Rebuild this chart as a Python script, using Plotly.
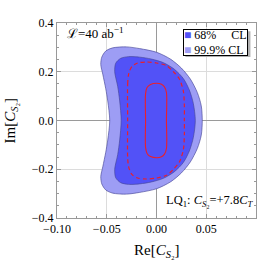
import plotly.graph_objects as go

# Contour boundaries (Re, Im)
outer_x = [-0.047, -0.049, -0.051, -0.054, -0.056, -0.055, -0.051, -0.044, -0.030, -0.017, 0.000, 0.014, 0.025, 0.034, 0.041, 0.045, 0.046,
           0.045, 0.041, 0.034, 0.025, 0.014, 0.000, -0.017, -0.030, -0.044, -0.051, -0.055, -0.056, -0.054, -0.051, -0.049, -0.047]
outer_y = [0.000, 0.080, 0.130, 0.190, 0.230, 0.260, 0.285, 0.298, 0.302, 0.295, 0.280, 0.252, 0.215, 0.170, 0.115, 0.060, 0.000,
           -0.060, -0.115, -0.170, -0.215, -0.252, -0.280, -0.295, -0.302, -0.298, -0.285, -0.260, -0.230, -0.190, -0.130, -0.080, 0.000]

inner_x = [-0.0355, -0.037, -0.039, -0.042, -0.041, -0.036, -0.028, -0.017, -0.005, 0.007, 0.018, 0.027, 0.033, 0.037, 0.039,
           0.037, 0.033, 0.027, 0.018, 0.007, -0.005, -0.017, -0.028, -0.036, -0.041, -0.042, -0.039, -0.037, -0.0355]
inner_y = [0.000, 0.080, 0.140, 0.200, 0.235, 0.255, 0.262, 0.260, 0.252, 0.237, 0.210, 0.172, 0.125, 0.070, 0.000,
           -0.070, -0.125, -0.172, -0.210, -0.237, -0.252, -0.260, -0.262, -0.255, -0.235, -0.200, -0.140, -0.080, 0.000]

dash_x = [-0.029, -0.029, -0.028, -0.025, -0.019, -0.010, 0.000, 0.010, 0.017, 0.023, 0.027, 0.028, 0.028,
          0.028, 0.027, 0.023, 0.017, 0.010, 0.000, -0.010, -0.019, -0.025, -0.028, -0.029, -0.029]
dash_y = [0.000, 0.150, 0.190, 0.220, 0.236, 0.240, 0.236, 0.225, 0.200, 0.170, 0.120, 0.060, 0.000,
          -0.060, -0.120, -0.170, -0.200, -0.225, -0.236, -0.240, -0.236, -0.220, -0.190, -0.150, 0.000]

solid_x = [-0.011, -0.011, -0.0095, -0.006, 0.000, 0.005, 0.008, 0.010, 0.010,
           0.010, 0.008, 0.005, 0.000, -0.006, -0.0095, -0.011, -0.011]
solid_y = [0.000, 0.110, 0.135, 0.148, 0.153, 0.149, 0.138, 0.115, 0.000,
           -0.115, -0.138, -0.149, -0.153, -0.148, -0.135, -0.110, 0.000]

x_ticks = [-0.10, -0.05, 0.00, 0.05, 0.10]
x_labels = ["\u22120.10", "\u22120.05", "0.00", "0.05", "0.10"]
y_ticks = [-0.4, -0.2, 0.0, 0.2, 0.4]
y_labels = ["\u22120.4", "\u22120.2", "0.0", "0.2", "0.4"]

light = "#9d9df4"
dark = "#5252f7"
edge = "rgba(70,70,150,0.8)"
red = "#e8202c"
serif = "Liberation Serif"

fig = go.Figure()
fig.add_trace(go.Scatter(x=outer_x, y=outer_y, mode="lines", fill="toself", fillcolor=light,
                         line=dict(color=edge, width=0.8, shape="spline", smoothing=0.8), showlegend=False, hoverinfo="skip"))
fig.add_trace(go.Scatter(x=inner_x, y=inner_y, mode="lines", fill="toself", fillcolor=dark,
                         line=dict(color=edge, width=0.8, shape="spline", smoothing=0.8), showlegend=False, hoverinfo="skip"))
fig.add_trace(go.Scatter(x=dash_x, y=dash_y, mode="lines",
                         line=dict(color=red, width=1.2, dash="4px,3px", shape="spline", smoothing=0.8), showlegend=False, hoverinfo="skip"))
fig.add_trace(go.Scatter(x=solid_x, y=solid_y, mode="lines",
                         line=dict(color=red, width=1.1, shape="spline", smoothing=0.8), showlegend=False, hoverinfo="skip"))

axis_common = dict(showline=True, linecolor="#999999", linewidth=1, mirror="ticks",
                   ticks="inside", ticklen=4, tickcolor="#999999", tickwidth=0.8,
                   showgrid=True, gridcolor="#dcdcdc", gridwidth=1,
                   zeroline=True, zerolinecolor="#9a9a9a", zerolinewidth=1,
                   tickfont=dict(family=serif, size=12, color="black"),
                   layer="above traces", automargin=False)

fig.update_layout(
    width=266, height=266,
    margin=dict(l=57, r=10, t=23, b=48),
    paper_bgcolor="white", plot_bgcolor="white",
    showlegend=False,
    xaxis=dict(range=[-0.1, 0.1], tickvals=x_ticks, ticktext=x_labels,
               minor=dict(dtick=0.01, ticks="inside", ticklen=2, tickcolor="#999999", showgrid=False),
               **axis_common),
    yaxis=dict(range=[-0.4, 0.4], tickvals=y_ticks, ticktext=y_labels,
               minor=dict(dtick=0.05, ticks="inside", ticklen=2, tickcolor="#999999", showgrid=False),
               **axis_common),
)

# axis titles
fig.add_annotation(xref="paper", yref="paper", x=-0.236, y=0.5, xanchor="center", yanchor="middle",
                   text="Im[<i>C</i><sub><i>S</i>\u2082</sub>]", showarrow=False, textangle=-90,
                   font=dict(family=serif, size=15, color="black"))
fig.add_annotation(xref="paper", yref="paper", x=0.5, y=-0.17, xanchor="center", yanchor="middle",
                   text="Re[<i>C</i><sub><i>S</i>\u2082</sub>]", showarrow=False,
                   font=dict(family=serif, size=15, color="black"))

# legend (compact box, with drop shadow)
fig.add_shape(type="rect", xref="paper", yref="paper", x0=0.645, x1=0.972, y0=0.826, y1=0.958,
              fillcolor="#b0b0b0", line=dict(width=0), layer="above")
leg_text = ("<span style='color:%s'>\u25A0</span> 68%%\u00a0\u00a0\u00a0\u00a0\u00a0CL<br>"
            "<span style='color:%s'>\u25A0</span> 99.9%% CL") % (dark, light)
fig.add_annotation(xref="paper", yref="paper", x=0.633, y=0.969, xanchor="left", yanchor="top",
                   text=leg_text, showarrow=False, align="left", width=63, height=25,
                   font=dict(family=serif, size=12, color="black"), bgcolor="white",
                   bordercolor="black", borderwidth=1, borderpad=0)

fig.add_annotation(xref="paper", yref="paper", x=0.04, y=0.95, xanchor="left", yanchor="middle",
                   text="\u2112=40 ab<sup>\u22121</sup>", showarrow=False,
                   font=dict(family=serif, size=13, color="black"))
fig.add_annotation(xref="paper", yref="paper", x=1.0, y=0.085, xanchor="right", yanchor="middle",
                   text="LQ<sub>1</sub>: <i>C</i><sub><i>S</i>\u2082</sub>=+7.8<i>C</i><sub><i>T</i></sub>",
                   showarrow=False, font=dict(family=serif, size=12.5, color="black"))

fig.write_html("out.html", config={"displayModeBar": False},
               post_script="document.body.style.margin='0';")
